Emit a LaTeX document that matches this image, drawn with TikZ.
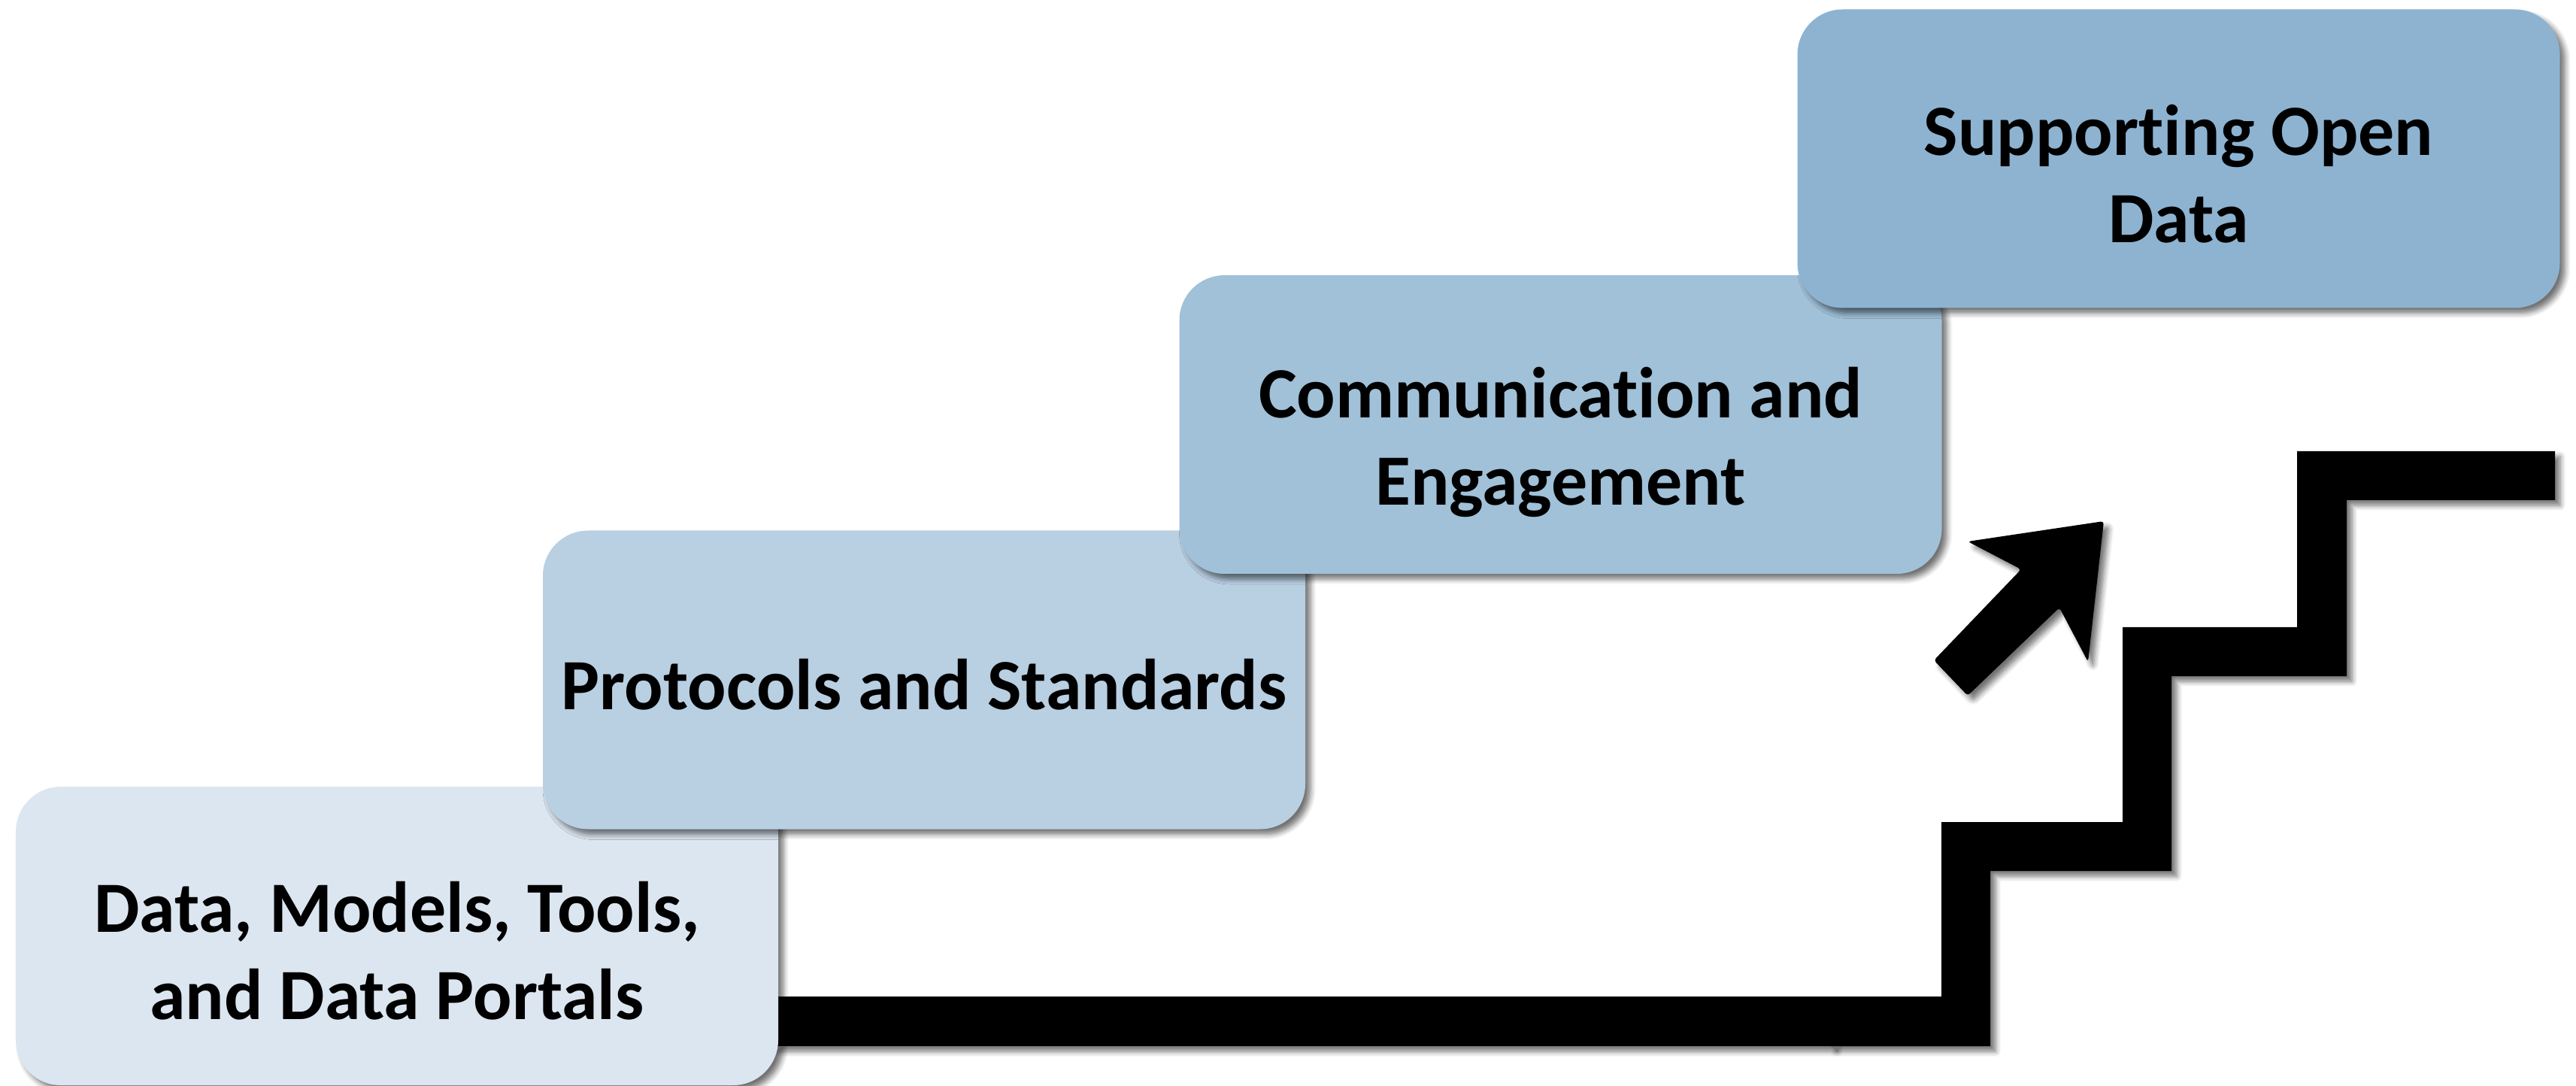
\documentclass[tikz,border=0pt]{standalone}
\usepackage{fontspec}
\setmainfont{Carlito}[Ligatures=NoCommon]
\usetikzlibrary{shadows.blur}
\definecolor{cboxa}{HTML}{DCE6F0}
\definecolor{cboxb}{HTML}{B9CFE2}
\definecolor{cboxc}{HTML}{A0C1D8}
\definecolor{cboxd}{HTML}{8DB3D1}
\tikzset{
  myshadow/.style={blur shadow={shadow xshift=0.07cm, shadow yshift=-0.07cm, shadow blur radius=0.07cm, shadow blur steps=6, shadow opacity=55}},
  stepbox/.style={rounded corners=0.6cm, draw=none, minimum width=10.14cm, minimum height=3.97cm, inner sep=0pt, myshadow},
  steplabel/.style={font=\fontsize{27.3}{33}\selectfont\bfseries, align=center, text=black, inner sep=0pt},
  solidshape/.style={fill=black, draw=none, myshadow},
}
\begin{document}
\begin{tikzpicture}
\useasboundingbox (0,0) rectangle (34.26,-14.44);
% bar from first box and staircase
\path[solidshape] (10.30,-13.25) rectangle (24.37,-13.91);
\path[solidshape] (24.35,-13.25) -- (25.82,-13.25) -- (25.82,-10.93) -- (28.23,-10.93)
  -- (28.23,-8.34) -- (30.55,-8.34) -- (30.55,-6.00) -- (33.98,-6.00) -- (33.98,-6.65)
  -- (31.21,-6.65) -- (31.21,-8.99) -- (28.88,-8.99) -- (28.88,-11.58) -- (26.47,-11.58)
  -- (26.47,-13.91) -- (24.35,-13.91) -- cycle;
% arrow
\path[solidshape, rounded corners=0.04cm] (27.98,-6.93) -- (27.77,-8.80) -- (27.39,-8.08)
  -- (26.17,-9.25) -- (25.72,-8.78) -- (26.88,-7.57) -- (26.17,-7.20) -- cycle;
% boxes
\node[stepbox, fill=cboxa] (b1) at (5.28,-12.445) {};
\node[stepbox, fill=cboxb] (b2) at (12.29,-9.04) {};
\node[stepbox, fill=cboxc] (b3) at (20.755,-5.645) {};
\node[stepbox, fill=cboxd] (b4) at (28.975,-2.11) {};
% labels
\node[steplabel] (t1) at ([yshift=-0.2cm]b1.center) {Data, Models, Tools,\\and Data Portals};
\node[steplabel] (t2) at ([yshift=-0.06cm]b2.center) {Protocols and Standards};
\node[steplabel] (t3) at ([yshift=-0.23cm]b3.center) {Communication and\\Engagement};
\node[steplabel] (t4) at ([yshift=-0.2cm]b4.center) {Supporting Open\\Data};
\end{tikzpicture}
\end{document}
